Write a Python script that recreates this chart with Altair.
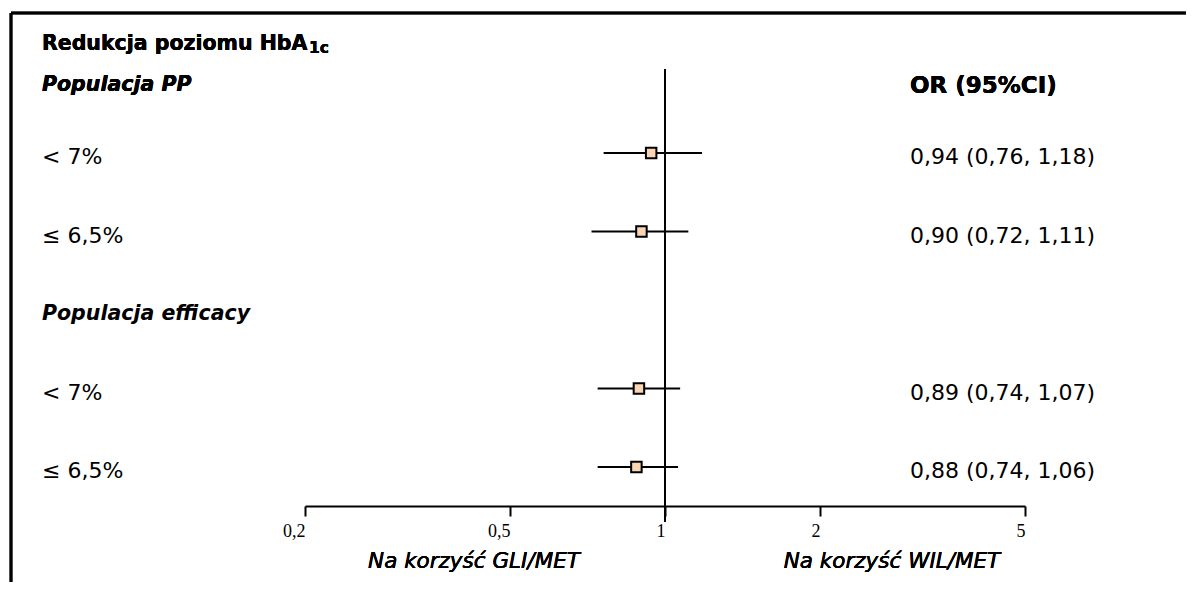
import altair as alt
import pandas as pd

# ---- data ----
row_labels = ["< 7%", "≤ 6,5%", "< 7%", "≤ 6,5%"]
row_index = [2, 3, 5, 6]
or_values = [0.94, 0.90, 0.89, 0.88]
ci_low = [0.76, 0.72, 0.74, 0.74]
ci_high = [1.18, 1.11, 1.07, 1.06]
or_texts = ["0,94 (0,76, 1,18)", "0,90 (0,72, 1,11)", "0,89 (0,74, 1,07)", "0,88 (0,74, 1,06)"]
section_labels = ["Populacja efficacy"]
section_rows = [4]
tick_values = [0.2, 0.5, 1, 2, 5]
ref_value = 1.0

df = pd.DataFrame({
    "label": row_labels, "row": row_index, "or": or_values,
    "lo": ci_low, "hi": ci_high, "txt": or_texts,
})
sec = pd.DataFrame({"label": section_labels, "row": section_rows})

FONT = "DejaVu Sans"
xscale = alt.Scale(type="log", domain=[0.2, 5], range=[297, 1017], nice=False)
yscale = alt.Scale(domain=[2, 6], range=[145, 459], nice=False, zero=False)
xaxis = alt.Axis(
    values=tick_values,
    labelExpr="replace(format(datum.value, ''), '.', ',')",
    labelFont="Liberation Serif", labelFontSize=18, labelColor="black",
    labelAlign="right", labelPadding=6, labelFlush=False, labelOverlap=False,
    domainColor="black", domainWidth=2, tickColor="black", tickWidth=2, tickSize=10,
    grid=False, title=None,
)


def X(field):
    return alt.X(field, type="quantitative", scale=xscale, axis=xaxis, title=None)


def Y(field):
    return alt.Y(field, type="quantitative", scale=yscale, axis=None, title=None)


base = alt.Chart(df)

ci = base.mark_rule(color="black", strokeWidth=2).encode(x=X("lo"), x2="hi", y=Y("row"))
pts = base.mark_square(size=110, color="#fbd4b4", stroke="black", strokeWidth=2, opacity=1).encode(
    x=X("or"), y=Y("row"))
ref = alt.Chart(df).mark_rule(color="black", strokeWidth=2).encode(
    x=alt.datum(ref_value), y=alt.value(61), y2=alt.value(514))

lbl = base.mark_text(align="left", baseline="middle", dy=4, font=FONT, fontSize=22, color="black").encode(
    x=alt.value(34), y=Y("row"), text="label")
ortxt = base.mark_text(align="left", baseline="middle", dy=4, font=FONT, fontSize=22, color="black").encode(
    x=alt.value(902), y=Y("row"), text="txt")
seclbl = alt.Chart(sec).mark_text(align="left", baseline="middle", dy=4, font=FONT, fontSize=20.5,
                                  fontWeight="bold", fontStyle="italic", color="black").encode(
    x=alt.value(34), y=Y("row"), text="label")

title1 = alt.Chart(df).mark_text(align="left", baseline="middle", font=FONT, fontSize=20.5,
                                 fontWeight="bold", color="black", text="Redukcja poziomu HbA").encode(
    x=alt.value(34), y=alt.value(36))
title_sub = alt.Chart(df).mark_text(align="left", baseline="middle", font=FONT, fontSize=15.5,
                                    fontWeight="bold", color="black", text="1c").encode(
    x=alt.value(301), y=alt.value(40))
pp = alt.Chart(df).mark_text(align="left", baseline="middle", font=FONT, fontSize=20.5,
                             fontWeight="bold", fontStyle="italic", color="black", text="Populacja PP").encode(
    x=alt.value(34), y=alt.value(77))
orhead = alt.Chart(df).mark_text(align="left", baseline="middle", font=FONT, fontSize=23,
                                 fontWeight="bold", color="black", text="OR (95%CI)").encode(
    x=alt.value(902), y=alt.value(78))
left_desc = alt.Chart(df).mark_text(align="center", baseline="middle", font=FONT, fontSize=21.5,
                                    fontStyle="italic", color="black", text="Na korzyść GLI/MET").encode(
    x=alt.value(466), y=alt.value(554))
right_desc = alt.Chart(df).mark_text(align="center", baseline="middle", font=FONT, fontSize=21.5,
                                     fontStyle="italic", color="black", text="Na korzyść WIL/MET").encode(
    x=alt.value(884), y=alt.value(554))

frame_left = alt.Chart(df).mark_rule(color="black", strokeWidth=2.5).encode(
    x=alt.value(3), y=alt.value(5), y2=alt.value(600))
frame_top = alt.Chart(df).mark_rule(color="black", strokeWidth=2.5).encode(
    x=alt.value(3), x2=alt.value(1190), y=alt.value(5))

chart = alt.layer(
    frame_left, frame_top, ref, ci, pts, lbl, ortxt, seclbl,
    title1, title_sub, pp, orhead, left_desc, right_desc,
).properties(
    width=1178, height=498,
    autosize=alt.AutoSizeParams(type="none"),
    padding={"left": 0, "top": 0, "right": 0, "bottom": 76},
).configure_view(stroke=None)

chart.save("out.html", embed_options={"renderer": "svg", "actions": False})
